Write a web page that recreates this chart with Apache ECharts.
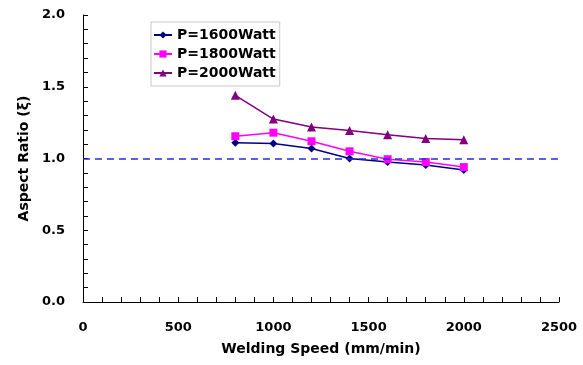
<!DOCTYPE html>
<html>
<head>
<meta charset="utf-8">
<script src="https://cdn.jsdelivr.net/npm/echarts@6/dist/echarts.min.js"></script>
<style>
  html, body { margin: 0; padding: 0; background: #ffffff; }
  #chart { width: 583px; height: 365px; }
</style>
</head>
<body>
<div id="chart"></div>
<script>
// welding speed (mm/min)
const speeds = [800, 1000, 1200, 1400, 1600, 1800, 2000];
// aspect ratio per power
const p1600 = [1.11, 1.105, 1.07, 1.0, 0.975, 0.955, 0.92];
const p1800 = [1.155, 1.18, 1.12, 1.05, 0.995, 0.975, 0.94];
const p2000 = [1.44, 1.275, 1.22, 1.195, 1.165, 1.14, 1.13];
const seriesNames = ['P=1600Watt', 'P=1800Watt', 'P=2000Watt'];
const refLine = 1.0;

const font = 'DejaVu Sans';
const pair = (vals) => speeds.map((s, i) => [s, vals[i]]);
const boldLabel = { fontFamily: font, fontWeight: 'bold', fontSize: 13, color: '#000' };

const chart = echarts.init(document.getElementById('chart'));
const option = {
  animation: false,
  backgroundColor: '#ffffff',
  textStyle: { fontFamily: font, fontWeight: 'bold' },
  grid: { left: 83, right: 24, top: 15, bottom: 63 },
  legend: {
    orient: 'vertical',
    left: 151,
    top: 22,
    padding: [6, 4, 6, 2],
    itemGap: 5,
    itemWidth: 18,
    itemHeight: 9,
    borderColor: '#c8c8c8',
    borderWidth: 1,
    textStyle: { fontFamily: font, fontWeight: 700, fontSize: 14, color: '#000' },
    data: seriesNames,
  },
  xAxis: {
    type: 'value',
    min: 0,
    max: 2500,
    interval: 500,
    name: 'Welding Speed (mm/min)',
    nameLocation: 'middle',
    nameGap: 40,
    nameTextStyle: { fontFamily: font, fontWeight: 700, fontSize: 14, color: '#000' },
    axisLine: { lineStyle: { color: '#000', width: 1 } },
    axisTick: { inside: true, length: 5, lineStyle: { color: '#000' } },
    minorTick: { show: true, splitNumber: 5, length: 5, lineStyle: { color: '#000' } },
    splitLine: { show: false },
    axisLabel: {
      margin: 19,
      formatter: (v) => '{b|' + v + '}',
      rich: { b: boldLabel },
    },
  },
  yAxis: {
    type: 'value',
    min: 0,
    max: 2,
    interval: 0.5,
    name: 'Aspect Ratio (ξ)',
    nameLocation: 'middle',
    nameGap: 52,
    nameTextStyle: { fontFamily: font, fontWeight: 700, fontSize: 14, color: '#000' },
    axisLine: { show: true, lineStyle: { color: '#000', width: 1 } },
    axisTick: { show: true, inside: true, length: 5, lineStyle: { color: '#000' } },
    minorTick: { show: true, splitNumber: 5, length: 5, lineStyle: { color: '#000' } },
    splitLine: { show: false },
    axisLabel: {
      margin: 18,
      formatter: (v) => '{b|' + v.toFixed(1) + '}',
      rich: { b: boldLabel },
    },
  },
  series: [
    {
      name: seriesNames[0],
      type: 'line',
      data: pair(p1600),
      symbol: 'diamond',
      symbolSize: 8,
      color: '#000080',
      lineStyle: { width: 1.5 },
      markLine: {
        silent: true,
        symbol: 'none',
        label: { show: false },
        lineStyle: { color: '#2a2ad8', type: [7, 5], width: 1.5 },
        data: [{ yAxis: refLine }],
      },
    },
    {
      name: seriesNames[1],
      type: 'line',
      data: pair(p1800),
      symbol: 'rect',
      symbolSize: 8,
      color: '#ff00ff',
      lineStyle: { width: 1.5 },
    },
    {
      name: seriesNames[2],
      type: 'line',
      data: pair(p2000),
      symbol: 'triangle',
      symbolSize: 9,
      color: '#800080',
      lineStyle: { width: 1.5 },
    },
  ],
};
chart.setOption(option);
</script>
</body>
</html>
